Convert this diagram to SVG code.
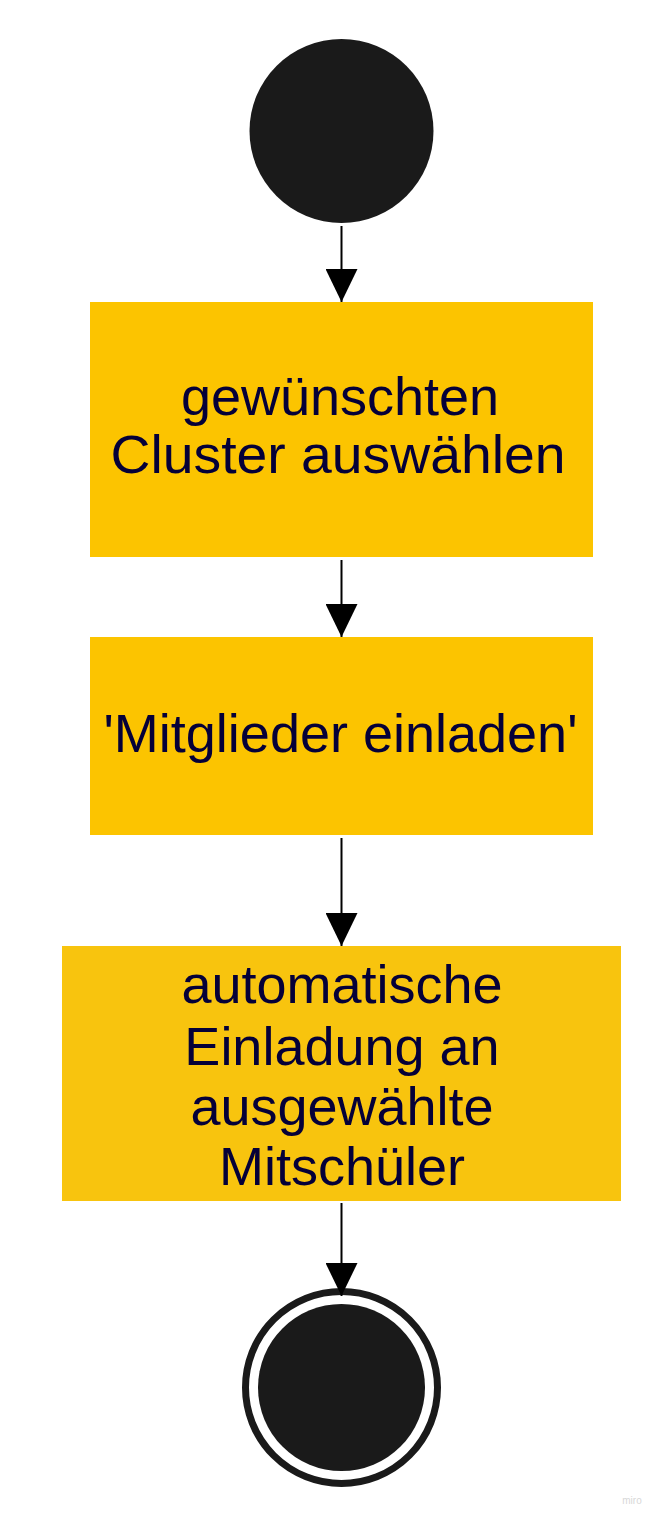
<svg xmlns="http://www.w3.org/2000/svg" width="658" height="1517" viewBox="0 0 658 1517">
<defs>
<style>
.box{fill:#FCC400}
.lbl{font-family:"Liberation Sans",Arial,sans-serif;font-size:54px;fill:#050038;text-anchor:middle}
.edge{stroke:#000;stroke-width:2;fill:none}
.dot{fill:#1A1A1A}
</style>
<marker id="arr" markerUnits="userSpaceOnUse" markerWidth="33" markerHeight="32" refX="33" refY="16" orient="auto" viewBox="0 0 33 32">
<path d="M0,0 L33,16 L0,32 Z" fill="#000"/>
</marker>
</defs>
<rect width="658" height="1517" fill="#fff"/>
<g id="start"><circle class="dot" cx="341.5" cy="131" r="92"/></g>
<g id="n1"><rect class="box" x="90" y="302" width="503" height="255"/>
<text class="lbl" x="340" y="415">gewünschten</text>
<text class="lbl" x="338" y="473" textLength="455" lengthAdjust="spacingAndGlyphs">Cluster auswählen</text></g>
<g id="n2"><rect class="box" x="90" y="637" width="503" height="198"/>
<text class="lbl" x="340.5" y="752">'Mitglieder einladen'</text></g>
<g id="n3"><rect x="62" y="946" width="559" height="255" fill="#F8C40E"/>
<text class="lbl" x="342" y="1003">automatische</text>
<text class="lbl" x="342" y="1065">Einladung an</text>
<text class="lbl" x="342" y="1125">ausgewählte</text>
<text class="lbl" x="342" y="1185">Mitschüler</text></g>
<g id="end"><circle cx="341.5" cy="1387.5" r="96" fill="none" stroke="#1A1A1A" stroke-width="7"/>
<circle class="dot" cx="341.5" cy="1387.5" r="83.5"/></g>
<g id="connectors">
<path d="M341.5,226 V302" class="edge" marker-end="url(#arr)"/>
<path d="M341.5,560 V637" class="edge" marker-end="url(#arr)"/>
<path d="M341.5,838 V946" class="edge" marker-end="url(#arr)"/>
<path d="M341.5,1203 V1296" class="edge" marker-end="url(#arr)"/>
</g>
<text x="632" y="1504" font-family="Liberation Sans,Arial,sans-serif" font-size="10" fill="#D8D8D8" text-anchor="middle">miro</text>
</svg>
